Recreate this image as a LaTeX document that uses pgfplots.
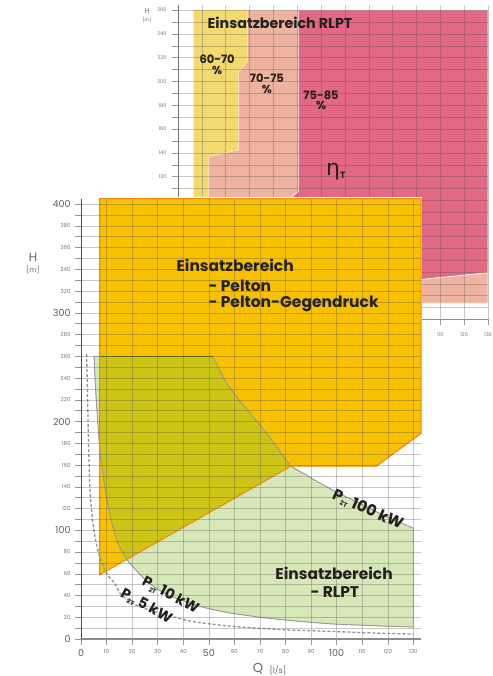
\documentclass[border=0pt]{standalone}
\usepackage{pgfplots}
\pgfplotsset{compat=1.18}
\usepackage{fontspec}
\setmainfont{Poppins}
\newfontfamily\grk{DejaVu Sans}

\definecolor{pelton}{RGB}{247,192,0}
\definecolor{peltonedge}{RGB}{238,135,20}
\definecolor{rlpt}{RGB}{214,232,183}
\definecolor{olivez}{RGB}{206,196,22}
\definecolor{yel}{RGB}{243,218,112}
\definecolor{salmon}{RGB}{238,180,160}
\definecolor{crimson}{RGB}{226,104,132}
\definecolor{txt}{RGB}{35,30,25}
\definecolor{lab}{RGB}{120,120,120}
\definecolor{dashgray}{RGB}{135,150,160}

\newcommand\BL[1]{{\fontsize{9.5}{10}\selectfont\color{lab!120}#1}}
\newcommand\SL[1]{{\fontsize{5.5}{6}\selectfont\color{lab}#1}}
\newcommand\LT{\fontsize{15.5}{17}\selectfont\bfseries\color{txt}}
\newcommand\LR{\fontsize{14.5}{16}\selectfont\bfseries\color{txt}}
\newcommand\LI{\fontsize{14.3}{16}\selectfont\bfseries\color{txt}}
\newcommand\LP{\fontsize{11.5}{12}\selectfont\bfseries\color{txt}}
\newcommand\PT[1]{P\raisebox{-2.5pt}{\fontsize{6.5}{6.5}\selectfont 2T}\ #1}

\begin{document}
\begin{tikzpicture}[x=1pt,y=1pt]
\fill[white] (0,0) rectangle (492,676);
\useasboundingbox (0,0) rectangle (492,676);

% ---------------- inset chart (behind) ----------------
\begin{axis}[
  at={(178pt,356.5pt)}, anchor=south west,
  scale only axis, width=310pt, height=314.2pt,
  xmin=0, xmax=130, ymin=0, ymax=264,
  clip=false, axis on top,
  axis x line*=bottom, axis y line*=left,
  xtick={10,20,...,130}, ytick={0,20,...,260}, minor ytick={10,30,...,250},
  grid=both,
  major grid style={black!70, opacity=0.3, line width=0.5pt},
  minor grid style={black!70, opacity=0.3, line width=0.5pt},
  tick align=outside, major tick length=6pt, minor tick length=6pt,
  tick style={black!40, line width=0.5pt},
  x axis line style={black!45, line width=1pt},
  y axis line style={black!55, line width=0.6pt},
  /pgf/number format/assume math mode=true,
  ticklabel style={font=\fontsize{5}{5}\selectfont, text=lab},
  yticklabel style={xshift=-2pt},
  xticklabel style={yshift=-4pt},
]
\addplot[fill=salmon, draw=white, line width=0.8pt] coordinates {
 (12.7,13.6) (12.7,137) (25.3,142.5) (25.3,208) (29,216.6) (29,260) (130,260) (130,13.6)} -- cycle;
\addplot[fill=yel, draw=none] coordinates {
 (6.5,90) (6.5,260) (29,260) (29,216.6) (25.3,208) (25.3,142.5) (12.7,137) (12.7,90)} -- cycle;
\addplot[fill=crimson, draw=white, line width=0.8pt] coordinates {
 (50.4,260) (130,260) (130,39.3) (102.7,33.8) (75,30) (55,45) (46.2,100.7) (50.4,107.4)} -- cycle;
\node[font=\LI] at (axis cs:42.8,249.2) {Einsatzbereich RLPT};
\node[font=\LP, align=center, inner sep=0pt] at (axis cs:16.4,214) {60-70\\[-1.5pt]\%};
\node[font=\LP, align=center, inner sep=0pt] at (axis cs:37.3,198) {70-75\\[-1.5pt]\%};
\node[font=\LP, align=center, inner sep=0pt] at (axis cs:60,184) {75-85\\[-1.5pt]\%};
\node[text=txt] at (axis cs:66.2,124) {{\grk\fontsize{22}{22}\selectfont η}\raisebox{-3pt}{\fontsize{9}{9}\selectfont\bfseries T}};
\end{axis}
\node[font=\fontsize{7}{7}\selectfont, text=black!60] at (147,665) {H};
\node[font=\fontsize{4.5}{5}\selectfont, text=black!60] at (147,656) {[m]};

% white sheet of main chart
\fill[white] (0,0) rectangle (422,479);

% ---------------- main chart ----------------
\begin{axis}[
  at={(81pt,37pt)}, anchor=south west,
  scale only axis, width=340pt, height=440.4pt,
  xmin=0, xmax=133, ymin=0, ymax=405,
  clip=false, axis on top,
  axis x line*=bottom, axis y line*=left,
  xtick={0,10,...,130},
  xticklabels={\BL{0},\SL{10},\SL{20},\SL{30},\SL{40},\BL{50},\SL{60},\SL{70},\SL{80},\SL{90},\BL{100},\SL{110},\SL{120},\SL{130}},
  ytick={0,20,...,400},
  yticklabels={\BL{0},\SL{20},\SL{40},\SL{60},\SL{80},\BL{100},\SL{120},\SL{140},\SL{160},\SL{180},\BL{200},\SL{220},\SL{240},\SL{260},\SL{280},\BL{300},\SL{320},\SL{340},\SL{360},\SL{380},\BL{400}},
  minor ytick={10,30,...,390},
  grid=both,
  major grid style={black!70, opacity=0.3, line width=0.5pt},
  minor grid style={black!70, opacity=0.3, line width=0.5pt},
  tick align=outside, major tick length=6pt, minor tick length=6pt,
  tick style={black!40, line width=0.5pt},
  x axis line style={black!45, line width=1.4pt},
  y axis line style={black!70, line width=0.8pt},
  yticklabel style={xshift=-1pt},
  xticklabel style={yshift=-1pt},
]
% Pelton area
\addplot[fill=pelton, draw=none] coordinates {
 (7.3,59) (82.2,159) (115.6,159) (133,189) (133,405) (7.3,405)} -- cycle;
% RLPT area
\addplot[fill=rlpt, draw=black!35, line width=0.5pt] coordinates {
 (5.1,260) (5.7,230) (6.4,205) (7.3,176) (8.1,160) (9.3,140) (10.8,120) (12.8,100) (14.5,88) (17.9,73.2)
 (22,62) (27,50.5) (34,40.5) (46.5,30) (58,24) (72.6,19.3) (85,16.3) (98.6,13.8) (115,12.2) (130,11)
 (130,102) (122,110) (115.6,117) (108,126) (100,135) (92.2,145) (88,151) (82.2,159) (77,175) (72.6,189)
 (66,208) (61,222) (56.3,238) (51.5,260)} -- cycle;
% overlap
\addplot[fill=olivez, draw=none] coordinates {
 (7.3,260) (51.5,260) (56.3,238) (61,222) (66,208) (72.6,189) (77,175) (82.2,159)
 (17.9,73.2) (14.5,88) (12.8,100) (10.8,120) (9.3,140) (8.1,160) (7.3,176)} -- cycle;
\addplot[draw=black!45!olivez, line width=0.6pt] coordinates {(7.3,260) (51.5,260)};
% P100 curve
\addplot[black!40, line width=0.8pt, smooth] coordinates {
 (51.5,260) (56.3,238) (61,222) (66,208) (72.6,189) (77,175) (82.2,159) (88,151) (92.2,145) (100,135) (108,126) (115.6,117) (122,110) (130,102)};
% P10 curve
\addplot[black!40, line width=0.8pt, smooth] coordinates {
 (5.1,260) (5.7,230) (6.4,205) (7.3,176) (8.1,160) (9.3,140) (10.8,120) (12.8,100) (14.5,88) (17.9,73.2)
 (22,62) (27,50.5) (34,40.5) (46.5,30) (58,24) (72.6,19.3) (85,16.3) (98.6,13.8) (115,12.2) (130,11)};
% Pelton border
\addplot[draw=peltonedge, line width=1pt] coordinates {
 (7.3,59) (82.2,159) (115.6,159) (133,189) (133,405) (7.3,405)} -- cycle;
% P5 dashed curve
\addplot[color=dashgray, line width=1.3pt, dash pattern=on 3pt off 2pt, smooth] coordinates {
 (2.2,262) (2.6,220) (2.9,183) (3.2,160) (3.5,137) (4.5,110) (5.7,91) (7,78) (8.7,66.5) (11,57) (13.3,51)
 (15.3,42) (20,33) (25,28) (32,23) (40,18) (46.5,15) (60,11.5) (80,8.5) (100,6.8) (115,5.5) (130,4.5)};

\node[anchor=west, font=\LT] at (axis cs:36,344) {Einsatzbereich};
\node[anchor=west, font=\LT] at (axis cs:48.5,324.6) {- Pelton};
\node[anchor=west, font=\LT] at (axis cs:48.5,308) {- Pelton-Gegendruck};
\node[anchor=west, font=\LT] at (axis cs:74.7,60.7) {Einsatzbereich};
\node[anchor=west, font=\LT] at (axis cs:88.4,43.2) {- RLPT};
\node[rotate=-24, font=\LT] at (axis cs:112.2,118.6) {\PT{100 kW}};
\node[rotate=-28, font=\LR, inner sep=0pt] at (axis cs:35,40) {\PT{10 kW}};
\node[rotate=-29, font=\LR, inner sep=0pt] at (axis cs:25.5,30) {\PT{5 kW}};
\end{axis}
\node[font=\fontsize{12}{12}\selectfont, text=black!60] at (33,419) {H};
\node[font=\fontsize{7}{7}\selectfont, text=black!60] at (33,406) {[m]};
\node[font=\fontsize{13}{13}\selectfont, text=black!60] at (258,7) {Q};
\node[font=\fontsize{8}{8}\selectfont, text=black!60, anchor=west] at (266,5.5) {[l/s]};
\end{tikzpicture}
\end{document}
